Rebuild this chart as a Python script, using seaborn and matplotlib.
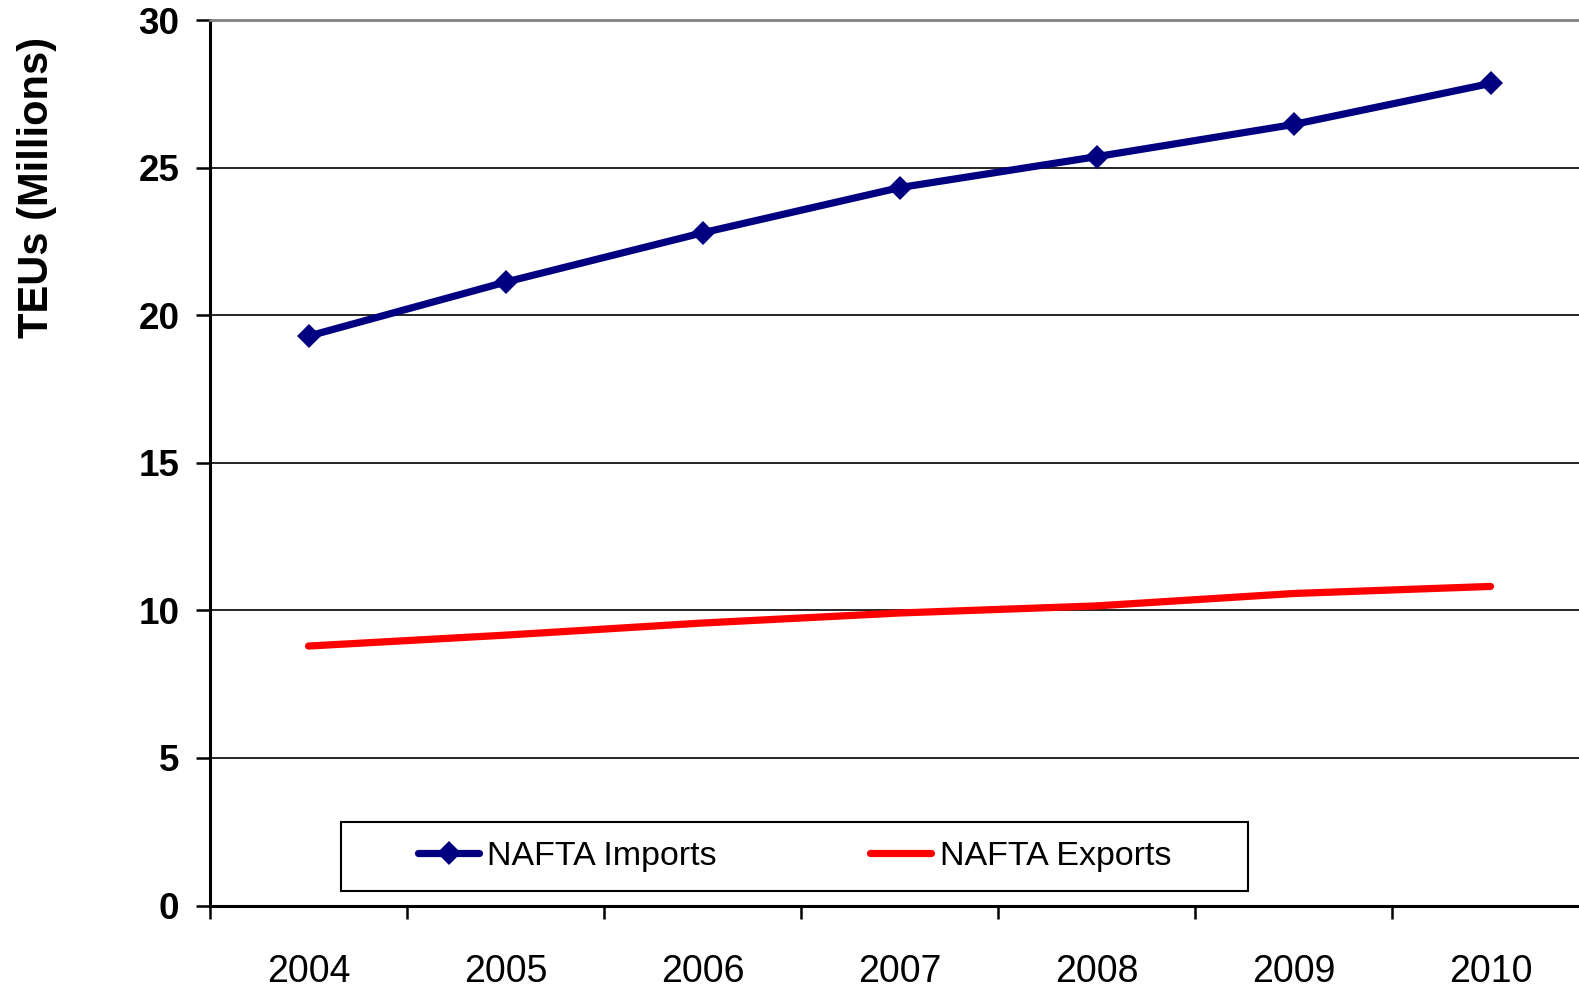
import matplotlib
matplotlib.use("Agg")
import matplotlib.pyplot as plt
import matplotlib.patches as mpatches
import numpy as np
import pandas as pd
import seaborn as sns

# Annual container volumes (TEUs, millions)
years = ["2004", "2005", "2006", "2007", "2008", "2009", "2010"]
imports = [19.29, 21.12, 22.79, 24.32, 25.37, 26.46, 27.85]
exports = [8.79, 9.16, 9.57, 9.91, 10.15, 10.57, 10.81]
series_names = ["NAFTA Imports", "NAFTA Exports"]
y_ticks = [0, 5, 10, 15, 20, 25, 30]

sns.set_style("white")
plt.rcParams["font.family"] = ["Liberation Sans", "DejaVu Sans"]
plt.rcParams["text.color"] = "black"
plt.rcParams["xtick.color"] = "black"
plt.rcParams["ytick.color"] = "black"
plt.rcParams["axes.labelcolor"] = "black"

W, H, DPI = 1579, 986, 100
fig = plt.figure(figsize=(W / DPI, H / DPI), dpi=DPI)
# plot area runs slightly past the right edge of the canvas
AX_L, AX_T, AX_B, AX_W = 210, 20, 905.5, 1379
AX_H = AX_B - AX_T
ax = fig.add_axes([AX_L / W, 1 - AX_B / H, AX_W / W, AX_H / H])

pos = np.arange(len(years))
df_imp = pd.DataFrame({"pos": pos, "value": imports})
df_exp = pd.DataFrame({"pos": pos, "value": exports})

sns.lineplot(data=df_imp, x="pos", y="value", ax=ax, color="#000080",
             linewidth=5.2, marker="D", markersize=12.5, markeredgewidth=0,
             label=series_names[0], zorder=4)
sns.lineplot(data=df_exp, x="pos", y="value", ax=ax, color="#FF0000",
             linewidth=5.2, solid_capstyle="round",
             label=series_names[1], zorder=3)

ax.set_xlim(-0.5, len(years) - 0.5)
ax.set_ylim(0, 30)
ax.set_xlabel("")
ax.set_ylabel("")

# horizontal gridlines
for yv in y_ticks[1:-1]:
    ax.axhline(yv, color="black", linewidth=1.2, zorder=1)

# y axis
ax.set_yticks(y_ticks)
ax.set_yticklabels([str(v) for v in y_ticks], fontsize=26.5, fontweight="bold")
ax.tick_params(axis="y", which="major", direction="out", length=10,
               width=1.8, color="black", pad=12, left=True)

# x axis: ticks on category boundaries, labels centred in each category
ax.set_xticks(np.arange(-0.5, len(years), 1.0))
ax.set_xticklabels([])
ax.tick_params(axis="x", which="major", direction="out", length=9.5,
               width=1.8, color="black", bottom=True)
ax.set_xticks(pos, minor=True)
ax.set_xticklabels(years, minor=True, fontsize=27)
ax.tick_params(axis="x", which="minor", length=0, pad=35)

for side in ["left", "bottom"]:
    ax.spines[side].set_color("black")
    ax.spines[side].set_linewidth(2.2)
ax.spines["right"].set_visible(False)
ax.spines["top"].set_color("#808080")
ax.spines["top"].set_linewidth(2.0)

# legend box
ax.get_legend().remove()
x0 = (341 - AX_L) / AX_W
x1 = (1248 - AX_L) / AX_W
y0 = (AX_B - 891) / AX_H
y1 = (AX_B - 822) / AX_H
ax.add_patch(mpatches.Rectangle((x0, y0), x1 - x0, y1 - y0,
                                transform=ax.transAxes, facecolor="white",
                                edgecolor="black", linewidth=1.5, zorder=5))
handles, labels = ax.get_legend_handles_labels()
leg = ax.legend(handles, labels, loc="center",
                bbox_to_anchor=((x0 + x1) / 2, (y0 + y1) / 2),
                ncol=2, frameon=False, fontsize=24.5, handlelength=1.8,
                handletextpad=0.24, columnspacing=4.5, numpoints=1,
                borderpad=0, borderaxespad=0)
leg.set_zorder(6)

fig.text(37 / W, 1 - 187 / H, "TEUs (Millions)", rotation=90,
         ha="center", va="center", fontsize=30, fontweight="bold")

fig.savefig("out.png", dpi=DPI, facecolor="white")
